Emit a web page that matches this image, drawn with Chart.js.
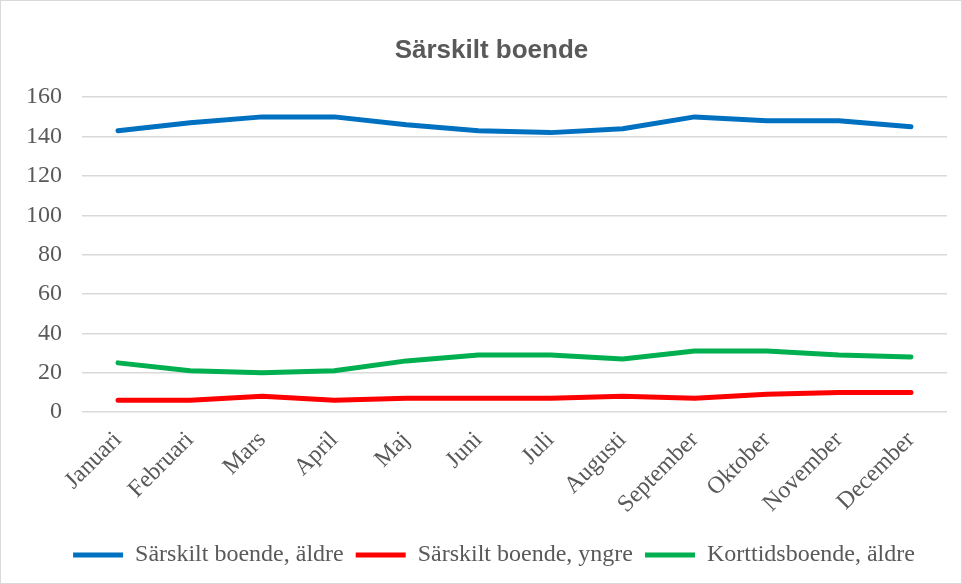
<!DOCTYPE html>
<html>
<head>
<meta charset="utf-8">
<script src="https://cdn.jsdelivr.net/npm/chart.js@4"></script>
<style>
    body { margin: 0; background: #fff; }
    #wrap { width: 960px; height: 582px; border: 1px solid #d9d9d9; }
</style>
</head>
<body>
<div id="wrap"><canvas id="boendeChart"></canvas></div>
<script>
const months = ['Januari', 'Februari', 'Mars', 'April', 'Maj', 'Juni', 'Juli', 'Augusti', 'September', 'Oktober', 'November', 'December'];
const aldre = [143, 147, 150, 150, 146, 143, 142, 144, 150, 148, 148, 145];
const yngre = [6, 6, 8, 6, 7, 7, 7, 8, 7, 9, 10, 10];
const korttid = [25, 21, 20, 21, 26, 29, 29, 27, 31, 31, 29, 28];

const textColor = '#595959';
const gridColor = '#d9d9d9';

function line(label, data, color) {
    return {
        label: label,
        data: data,
        borderColor: color,
        backgroundColor: color,
        borderWidth: 5,
        borderCapStyle: 'round',
        borderJoinStyle: 'round',
        pointRadius: 0,
        tension: 0
    };
}

// title and legend sit a bit right of the canvas centre in the original
const shiftBoxes = {
    id: 'shiftBoxes',
    afterLayout(chart) {
        chart.titleBlock.left += 35;
        chart.legend.left += 40;
    }
};

Chart.defaults.font.family = "'Liberation Serif', serif";
Chart.defaults.font.size = 24;
Chart.defaults.color = textColor;

const ctx = document.getElementById('boendeChart').getContext('2d');
const boendeChart = new Chart(ctx, {
    type: 'line',
    data: {
        labels: months,
        datasets: [
            line('Särskilt boende, äldre', aldre, '#0070C0'),
            line('Särskilt boende, yngre', yngre, '#FF0000'),
            line('Korttidsboende, äldre', korttid, '#00B050')
        ]
    },
    options: {
        responsive: true,
        maintainAspectRatio: false,
        animation: false,
        layout: {
            padding: { left: 0, right: 14, top: 0, bottom: 6 }
        },
        plugins: {
            title: {
                display: true,
                text: 'Särskilt boende',
                font: { family: "'Liberation Sans', Arial, sans-serif", size: 26, weight: 'bold' },
                color: textColor,
                padding: { top: 34, bottom: 31 }
            },
            legend: {
                position: 'bottom',
                labels: {
                    usePointStyle: true,
                    pointStyle: 'line',
                    pointStyleWidth: 50,
                    boxHeight: 24,
                    padding: 12,
                    color: textColor,
                    font: { size: 24 }
                }
            },
            tooltip: { enabled: false }
        },
        scales: {
            y: {
                min: 0,
                max: 160,
                ticks: { stepSize: 20, padding: 20 },
                grid: { color: gridColor, lineWidth: 1.5, drawTicks: false },
                border: { display: false },
                afterFit: function (scale) { scale.width = 81; }
            },
            x: {
                offset: true,
                ticks: { minRotation: 45, maxRotation: 45, padding: 14 },
                grid: { display: false, drawTicks: false },
                border: { display: false },
                afterFit: function (scale) { scale.height -= 2; }
            }
        }
    },
    plugins: [shiftBoxes]
});
</script>
</body>
</html>
